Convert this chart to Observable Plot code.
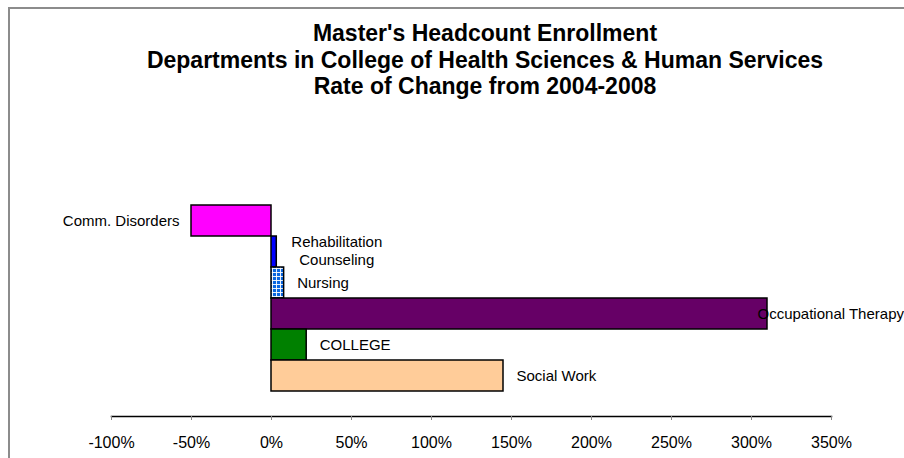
<!DOCTYPE html>
<html>
<head>
<meta charset="utf-8">
<script src="https://cdn.jsdelivr.net/npm/d3@7"></script>
<script src="https://cdn.jsdelivr.net/npm/@observablehq/plot@0.6"></script>
<style>
  html, body { margin: 0; padding: 0; background: #fff; }
  #wrap { position: relative; width: 904px; height: 458px; overflow: hidden; background: #fff;
          font-family: "Liberation Sans", Arial, sans-serif; }
  #border { position: absolute; left: 8px; top: 7px; width: 1200px; height: 1200px;
            border: 2px solid #8c8c8c; box-sizing: border-box; }
  #title { position: absolute; left: 0; top: 20px; width: 970px; text-align: center;
           font-weight: bold; font-size: 23px; line-height: 26.5px; color: #000; }
  #chart { position: absolute; left: 0; top: 0; }
</style>
</head>
<body>
<div id="wrap">
  <div id="border"></div>
  <div id="title">Master's Headcount Enrollment<br>Departments in College of Health Sciences &amp; Human Services<br>Rate of Change from 2004-2008</div>
  <div id="chart"></div>
</div>
<script>
// Data
const categories = ["Comm. Disorders", "Rehabilitation Counseling", "Nursing", "Occupational Therapy", "COLLEGE", "Social Work"];
const values = [-50, 3.3, 7.9, 310, 22, 145];
const colors = ["#ff00ff", "#0000ff", "url(#nursingPattern)", "#660066", "#008000", "#ffcc99"];
const tickValues = [-100, -50, 0, 50, 100, 150, 200, 250, 300, 350];

const data = categories.map((c, i) => ({category: c, value: values[i], color: colors[i]}));
const labelFont = "Liberation Sans, Arial, sans-serif";

const defs = () => {
  const d = d3.create("svg:defs");
  const p = d.append("pattern").attr("id", "nursingPattern").attr("patternUnits", "userSpaceOnUse")
    .attr("width", 4).attr("height", 4);
  p.append("rect").attr("width", 4).attr("height", 4).attr("fill", "#0a66e0");
  p.append("path").attr("d", "M0 0.5H4M0.5 0V4").attr("stroke", "#ffffff").attr("stroke-width", 0.9);
  return d.node();
};

const plot = Plot.plot({
  width: 904,
  height: 458,
  marginLeft: 111,
  marginRight: 73,
  marginTop: 203,
  marginBottom: 42,
  style: {fontFamily: labelFont, fontSize: "15px", background: "transparent"},
  x: {domain: [-100, 350], label: null},
  y: {domain: categories, range: [203, 393], padding: 0, axis: null},
  color: {type: "identity"},
  marks: [
    defs,
    Plot.frame({anchor: "bottom", stroke: "#000", strokeWidth: 1.5}),
    Plot.axisX({ticks: tickValues, tickFormat: d => d + "%", tickSize: 4, tickPadding: 16,
                stroke: "#888", fill: "#000", fontSize: 16, label: null}),
    Plot.barX(data, {x: "value", y: "category", fill: "color", stroke: "#000", strokeWidth: 1.5}),
    Plot.text(data.filter(d => d.value < 0), {x: "value", y: "category", text: "category",
      textAnchor: "end", dx: -12, fill: "#000", fontSize: 15}),
    Plot.text(data.filter(d => d.value >= 0 && d.category !== "Rehabilitation Counseling" && d.category !== "Occupational Therapy"),
      {x: "value", y: "category", text: "category", textAnchor: "start", dx: 13, fill: "#000", fontSize: 15}),
    Plot.text(data.filter(d => d.category === "Rehabilitation Counseling"),
      {x: "value", y: "category", text: d => "Rehabilitation\nCounseling", textAnchor: "middle", dx: 60, dy: -1.5,
       lineHeight: 1.2, fill: "#000", fontSize: 15}),
    Plot.text(data.filter(d => d.category === "Occupational Therapy"),
      {x: "value", y: "category", text: "category", textAnchor: "start", dx: -10, fill: "#000", fontSize: 15})
  ]
});
document.getElementById("chart").appendChild(plot);
</script>
</body>
</html>
